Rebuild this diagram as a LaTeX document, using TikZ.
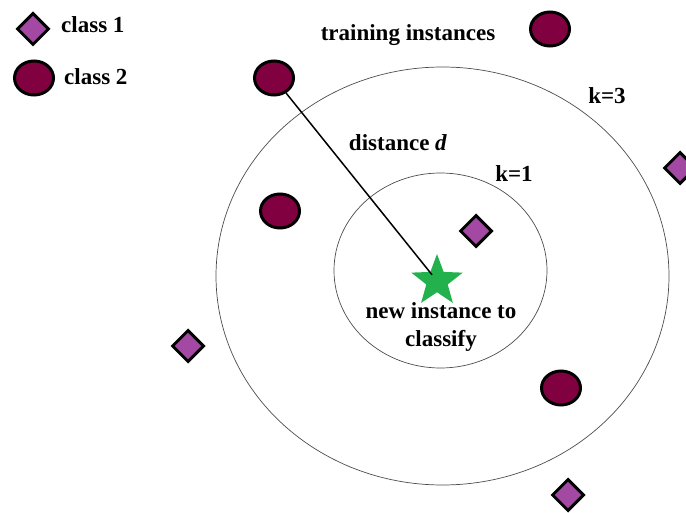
\documentclass[tikz,border=0pt]{standalone}
\usepackage{fontspec}
\setmainfont{Liberation Serif}
\usetikzlibrary{shapes.geometric}
\definecolor{classone}{RGB}{163,73,164}
\definecolor{classtwo}{RGB}{128,0,64}
\definecolor{newpt}{RGB}{34,177,76}
\begin{document}
\begin{tikzpicture}[
        x=1pt, y=-1pt,
        font=\bfseries\fontsize{23}{28}\selectfont,
        cls1/.style={diamond, draw, line width=3pt, fill=classone, minimum size=32pt, inner sep=0pt},
        cls2/.style={ellipse, draw, line width=3pt, fill=classtwo, minimum width=39pt, minimum height=34pt, inner sep=0pt},
        ring/.style={ellipse, draw=black!70, line width=0.7pt, inner sep=0pt},
        lbl/.style={align=center, inner sep=0pt}
    ]
        \useasboundingbox (0,0) rectangle (686,513);

        \node[cls1] (leg1) at (33,29) {};
        \node[cls2] (leg2) at (34,78) {};
        \node[lbl, anchor=base west] (leg1txt) at (61,33) {class 1};
        \node[lbl, anchor=base west] (leg2txt) at (64,85) {class 2};

        \node[ring, minimum width=453pt, minimum height=418pt] (ring3) at (442.5,276) {};
        \node[ring, minimum width=213pt, minimum height=195pt] (ring1) at (440.5,270.5) {};

        \node[cls2] (p1) at (274,78) {};
        \node[cls2] (p2) at (550,29) {};
        \node[cls2] (p3) at (280,211) {};
        \node[cls2] (p4) at (561,388) {};
        \node[cls1] (p5) at (476,231) {};
        \node[cls1] (p6) at (188,346) {};
        \node[cls1] (p7) at (680,168) {};
        \node[cls1] (p8) at (568,495) {};
        \node[star, star points=5, star point ratio=2.4, fill=newpt, minimum size=54pt, inner sep=0pt] (new) at (437,281) {};

        \draw[line width=1.5pt, shorten >=8pt] (p1) -- (new.center);

        \node[lbl, anchor=base] (train) at (408,41) {training instances};
        \node[lbl, anchor=base] (k3) at (607,104) {k=3};
        \node[lbl, anchor=base] (dist) at (398,151) {distance \textit{d}};
        \node[lbl, anchor=base] (k1) at (514,182) {k=1};
        \node[lbl] (newtxt) at (441,327) {new instance to\\classify};
    \end{tikzpicture}
\end{document}
